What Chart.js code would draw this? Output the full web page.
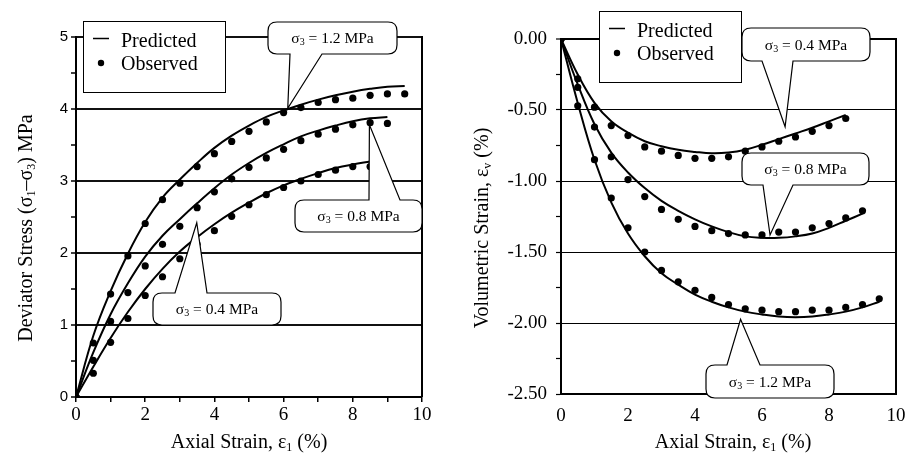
<!DOCTYPE html>
<html lang="en">
<head>
<meta charset="UTF-8" />
<title>Triaxial test - predicted vs observed</title>
<script src="https://cdn.jsdelivr.net/npm/chart.js"></script>
<style>
    body { margin: 0; background: #fff; }
    .wrap { position: relative; width: 919px; height: 464px; }
    .box { position: absolute; top: 0; height: 464px; }
    #leftBox { left: 0; width: 450px; }
    #rightBox { left: 450px; width: 469px; }
</style>
</head>
<body>
<div class="wrap">
    <div class="box" id="leftBox"><canvas id="stressChart"></canvas></div>
    <div class="box" id="rightBox"><canvas id="volChart"></canvas></div>
</div>

<script>
// axial strain (%) at which values were read
const strain = [0, 0.5, 1, 1.5, 2, 2.5, 3, 3.5, 4, 4.5, 5, 5.5, 6, 6.5, 7, 7.5, 8, 8.5, 9, 9.5];

// deviator stress (MPa), observed
const obsStress12 = [0, 0.75, 1.43, 1.96, 2.41, 2.74, 2.97, 3.20, 3.38, 3.55, 3.69, 3.82, 3.95, 4.02, 4.09, 4.13, 4.15, 4.19, 4.21, 4.21];
const obsStress08 = [0, 0.51, 1.05, 1.45, 1.82, 2.12, 2.37, 2.63, 2.85, 3.03, 3.19, 3.32, 3.44, 3.56, 3.65, 3.72, 3.78, 3.81, 3.80];
const obsStress04 = [0, 0.33, 0.76, 1.09, 1.41, 1.67, 1.92, 2.12, 2.31, 2.51, 2.67, 2.81, 2.91, 3.00, 3.09, 3.15, 3.20, 3.20];
// deviator stress (MPa), predicted
const predStress12 = [0, 0.85, 1.47, 1.99, 2.43, 2.77, 3.02, 3.25, 3.46, 3.63, 3.77, 3.89, 3.98, 4.06, 4.13, 4.19, 4.24, 4.28, 4.31, 4.32];
const predStress08 = [0, 0.62, 1.15, 1.58, 1.95, 2.24, 2.47, 2.69, 2.90, 3.09, 3.25, 3.39, 3.51, 3.62, 3.70, 3.77, 3.83, 3.87, 3.89];
const predStress04 = [0, 0.42, 0.82, 1.18, 1.50, 1.78, 2.02, 2.22, 2.40, 2.56, 2.70, 2.83, 2.94, 3.03, 3.11, 3.18, 3.23, 3.27];

// volumetric strain (%), observed
const obsVol04 = [0, -0.28, -0.48, -0.61, -0.68, -0.76, -0.79, -0.82, -0.84, -0.84, -0.83, -0.79, -0.76, -0.72, -0.69, -0.65, -0.61, -0.56];
const obsVol08 = [0, -0.34, -0.62, -0.83, -0.99, -1.11, -1.20, -1.27, -1.32, -1.35, -1.37, -1.38, -1.38, -1.36, -1.36, -1.33, -1.30, -1.26, -1.21];
const obsVol12 = [0, -0.47, -0.85, -1.12, -1.33, -1.50, -1.63, -1.71, -1.77, -1.82, -1.87, -1.90, -1.91, -1.92, -1.92, -1.91, -1.91, -1.89, -1.87, -1.83];
// volumetric strain (%), predicted
const predVol04 = [0, -0.25, -0.45, -0.58, -0.66, -0.72, -0.755, -0.78, -0.795, -0.805, -0.80, -0.78, -0.745, -0.705, -0.665, -0.625, -0.58, -0.535];
const predVol08 = [0, -0.32, -0.60, -0.80, -0.94, -1.05, -1.14, -1.21, -1.27, -1.32, -1.36, -1.39, -1.40, -1.40, -1.39, -1.37, -1.33, -1.28, -1.23];
const predVol12 = [0, -0.45, -0.85, -1.15, -1.37, -1.53, -1.65, -1.73, -1.80, -1.85, -1.89, -1.92, -1.94, -1.955, -1.96, -1.955, -1.94, -1.92, -1.89, -1.85];

const SERIF = '"Liberation Serif", "Times New Roman", serif';
const SANS = '"Liberation Sans", Arial, sans-serif';

function pts(arr) {
    return arr.map(function (v, i) { return { x: strain[i], y: v }; });
}

function observed(arr) {
    return { data: pts(arr), showLine: false, pointRadius: 3.6, pointBackgroundColor: "#000", pointBorderWidth: 0 };
}

function predicted(arr) {
    return { data: pts(arr), showLine: true, pointRadius: 0, borderColor: "#000", borderWidth: 2, tension: 0.4 };
}

// text with subscripts, parts = [[string, isSub], ...]
function richText(ctx, parts, cx, cy, size, rotate) {
    const subSize = Math.round(size * 0.62);
    ctx.save();
    ctx.translate(cx, cy);
    if (rotate) ctx.rotate(-Math.PI / 2);
    ctx.fillStyle = "#000";
    ctx.textBaseline = "alphabetic";
    ctx.textAlign = "left";
    let total = 0;
    parts.forEach(function (p) {
        ctx.font = (p[1] ? subSize : size) + "px " + SERIF;
        total += ctx.measureText(p[0]).width;
    });
    let x = -total / 2;
    const base = size * 0.33;
    parts.forEach(function (p) {
        ctx.font = (p[1] ? subSize : size) + "px " + SERIF;
        ctx.fillText(p[0], x, p[1] ? base + size * 0.15 : base);
        x += ctx.measureText(p[0]).width;
    });
    ctx.restore();
}

function drawLegend(ctx, bx, by) {
    ctx.save();
    ctx.fillStyle = "#fff";
    ctx.fillRect(bx, by, 142, 71);
    ctx.strokeStyle = "#000";
    ctx.lineWidth = 1;
    ctx.strokeRect(bx + 0.5, by + 0.5, 142, 71);
    ctx.beginPath();
    ctx.moveTo(bx + 10, by + 17.5);
    ctx.lineTo(bx + 26, by + 17.5);
    ctx.lineWidth = 1.5;
    ctx.stroke();
    ctx.beginPath();
    ctx.arc(bx + 18, by + 42, 3.2, 0, Math.PI * 2);
    ctx.fillStyle = "#000";
    ctx.fill();
    ctx.font = "20px " + SERIF;
    ctx.textBaseline = "alphabetic";
    ctx.fillText("Predicted", bx + 38, by + 26);
    ctx.fillText("Observed", bx + 38, by + 49);
    ctx.restore();
}

// rounded box with a pointer towards tip
function callout(chart, c) {
    const ctx = chart.ctx;
    const tx = chart.scales.x.getPixelForValue(c.tip[0]);
    const ty = chart.scales.y.getPixelForValue(c.tip[1]);
    const x = c.box[0], y = c.box[1], w = c.box[2], h = c.box[3];
    const r = 9;
    const up = ty < y;
    ctx.save();
    ctx.beginPath();
    ctx.moveTo(x + r, y);
    if (up) { ctx.lineTo(c.base[0], y); ctx.lineTo(tx, ty); ctx.lineTo(c.base[1], y); }
    ctx.lineTo(x + w - r, y);
    ctx.quadraticCurveTo(x + w, y, x + w, y + r);
    ctx.lineTo(x + w, y + h - r);
    ctx.quadraticCurveTo(x + w, y + h, x + w - r, y + h);
    if (!up) { ctx.lineTo(c.base[1], y + h); ctx.lineTo(tx, ty); ctx.lineTo(c.base[0], y + h); }
    ctx.lineTo(x + r, y + h);
    ctx.quadraticCurveTo(x, y + h, x, y + h - r);
    ctx.lineTo(x, y + r);
    ctx.quadraticCurveTo(x, y, x + r, y);
    ctx.closePath();
    ctx.fillStyle = "#fff";
    ctx.fill();
    ctx.strokeStyle = "#000";
    ctx.lineWidth = 1.2;
    ctx.stroke();
    ctx.restore();
    richText(ctx, [["σ", 0], ["3", 1], [" = " + c.label + " MPa", 0]], x + w / 2, y + h / 2, 15.5, false);
}

function decorPlugin(cfg) {
    return {
        id: "decor",
        beforeDatasetsDraw: function (chart) {
            const ctx = chart.ctx, a = chart.chartArea;
            ctx.save();
            ctx.strokeStyle = "#000";
            ctx.lineWidth = 2;
            ctx.beginPath();
            ctx.moveTo(a.right, a.top - 1);
            ctx.lineTo(a.right, a.bottom);
            ctx.stroke();
            ctx.restore();
        },
        afterDraw: function (chart) {
            const ctx = chart.ctx;
            drawLegend(ctx, cfg.legend[0], cfg.legend[1]);
            cfg.callouts.forEach(function (c) { callout(chart, c); });
            richText(ctx, cfg.yTitle, cfg.yTitlePos[0], cfg.yTitlePos[1], 20, true);
            richText(ctx, [["Axial Strain, ε", 0], ["1", 1], [" (%)", 0]], cfg.xTitlePos[0], cfg.xTitlePos[1], 20, false);
        }
    };
}

Chart.defaults.animation = false;
Chart.defaults.color = "#000";

// left chart: deviator stress
new Chart(document.getElementById("stressChart"), {
    type: "scatter",
    data: {
        datasets: [
            observed(obsStress12), observed(obsStress08), observed(obsStress04),
            predicted(predStress12), predicted(predStress08), predicted(predStress04)
        ]
    },
    options: {
        responsive: true,
        maintainAspectRatio: false,
        layout: { padding: { top: 37, right: 28, left: 0, bottom: 0 } },
        plugins: { legend: { display: false }, tooltip: { enabled: false } },
        scales: {
            x: {
                type: "linear", min: 0, max: 10,
                afterFit: function (s) { s.height = 67; },
                ticks: {
                    stepSize: 1, padding: 2,
                    font: { family: SERIF, size: 19 },
                    callback: function (v) { return v % 2 === 0 ? v : ""; }
                },
                grid: { drawOnChartArea: false, tickLength: 5, tickColor: "#000", lineWidth: 1.5 },
                border: { color: "#000", width: 2 }
            },
            y: {
                min: 0, max: 5,
                afterFit: function (s) { s.width = 76; },
                ticks: {
                    stepSize: 0.5, padding: 3,
                    font: { family: SANS, size: 15 },
                    callback: function (v) { return v % 1 === 0 ? v : ""; }
                },
                grid: {
                    color: function (c) { return c.tick && c.tick.value % 1 === 0 && c.tick.value > 0 ? "#111" : "rgba(0,0,0,0)"; },
                    lineWidth: 2,
                    tickLength: 5, tickColor: "#000", tickWidth: 1.5
                },
                border: { color: "#000", width: 2 }
            }
        }
    },
    plugins: [decorPlugin({
        legend: [83, 21],
        yTitle: [["Deviator Stress (σ", 0], ["1", 1], ["–σ", 0], ["3", 1], [") MPa", 0]],
        yTitlePos: [25, 228],
        xTitlePos: [249, 441],
        callouts: [
            { label: "1.2", box: [268, 22, 129, 32], base: [290, 322], tip: [6.12, 4.01] },
            { label: "0.8", box: [295, 200, 127, 32], base: [369, 400], tip: [8.48, 3.78] },
            { label: "0.4", box: [153, 293, 128, 32], base: [175, 207], tip: [3.49, 2.42] }
        ]
    })]
});

// right chart: volumetric strain
new Chart(document.getElementById("volChart"), {
    type: "scatter",
    data: {
        datasets: [
            observed(obsVol04), observed(obsVol08), observed(obsVol12),
            predicted(predVol04), predicted(predVol08), predicted(predVol12)
        ]
    },
    options: {
        responsive: true,
        maintainAspectRatio: false,
        layout: { padding: { top: 39, right: 23, left: 0, bottom: 0 } },
        plugins: { legend: { display: false }, tooltip: { enabled: false } },
        scales: {
            x: {
                type: "linear", min: 0, max: 10,
                afterFit: function (s) { s.height = 70; },
                ticks: { stepSize: 2, padding: 11, font: { family: SERIF, size: 19 } },
                grid: { drawOnChartArea: false, drawTicks: false },
                border: { color: "#000", width: 2 }
            },
            y: {
                min: -2.5, max: 0,
                afterFit: function (s) { s.width = 111; },
                ticks: {
                    stepSize: 0.25, padding: 9,
                    font: { family: SERIF, size: 19 },
                    callback: function (v) {
                        return Math.abs(Math.round(v * 4)) % 2 === 0 ? (v === 0 ? "0.00" : v.toFixed(2)) : "";
                    }
                },
                grid: {
                    color: function (c) {
                        if (!c.tick) return "rgba(0,0,0,0)";
                        return Math.abs(Math.round(c.tick.value * 4)) % 2 === 0 ? "#000" : "rgba(0,0,0,0)";
                    },
                    lineWidth: function (c) { return c.tick && c.tick.value === 0 ? 2 : 1; },
                    tickLength: 5, tickColor: "#000", tickWidth: 1.2
                },
                border: { color: "#000", width: 2 }
            }
        }
    },
    plugins: [decorPlugin({
        legend: [149, 11],
        yTitle: [["Volumetric Strain, ε", 0], ["v", 1], [" (%)", 0]],
        yTitlePos: [31, 228],
        xTitlePos: [283, 441],
        callouts: [
            { label: "0.4", box: [292, 28, 128, 33], base: [312, 343], tip: [6.69, -0.618] },
            { label: "0.8", box: [292, 153, 127, 32], base: [313, 343], tip: [6.24, -1.38] },
            { label: "1.2", box: [256, 365, 128, 33], base: [277, 310], tip: [5.36, -1.974] }
        ]
    })]
});
</script>
</body>
</html>
